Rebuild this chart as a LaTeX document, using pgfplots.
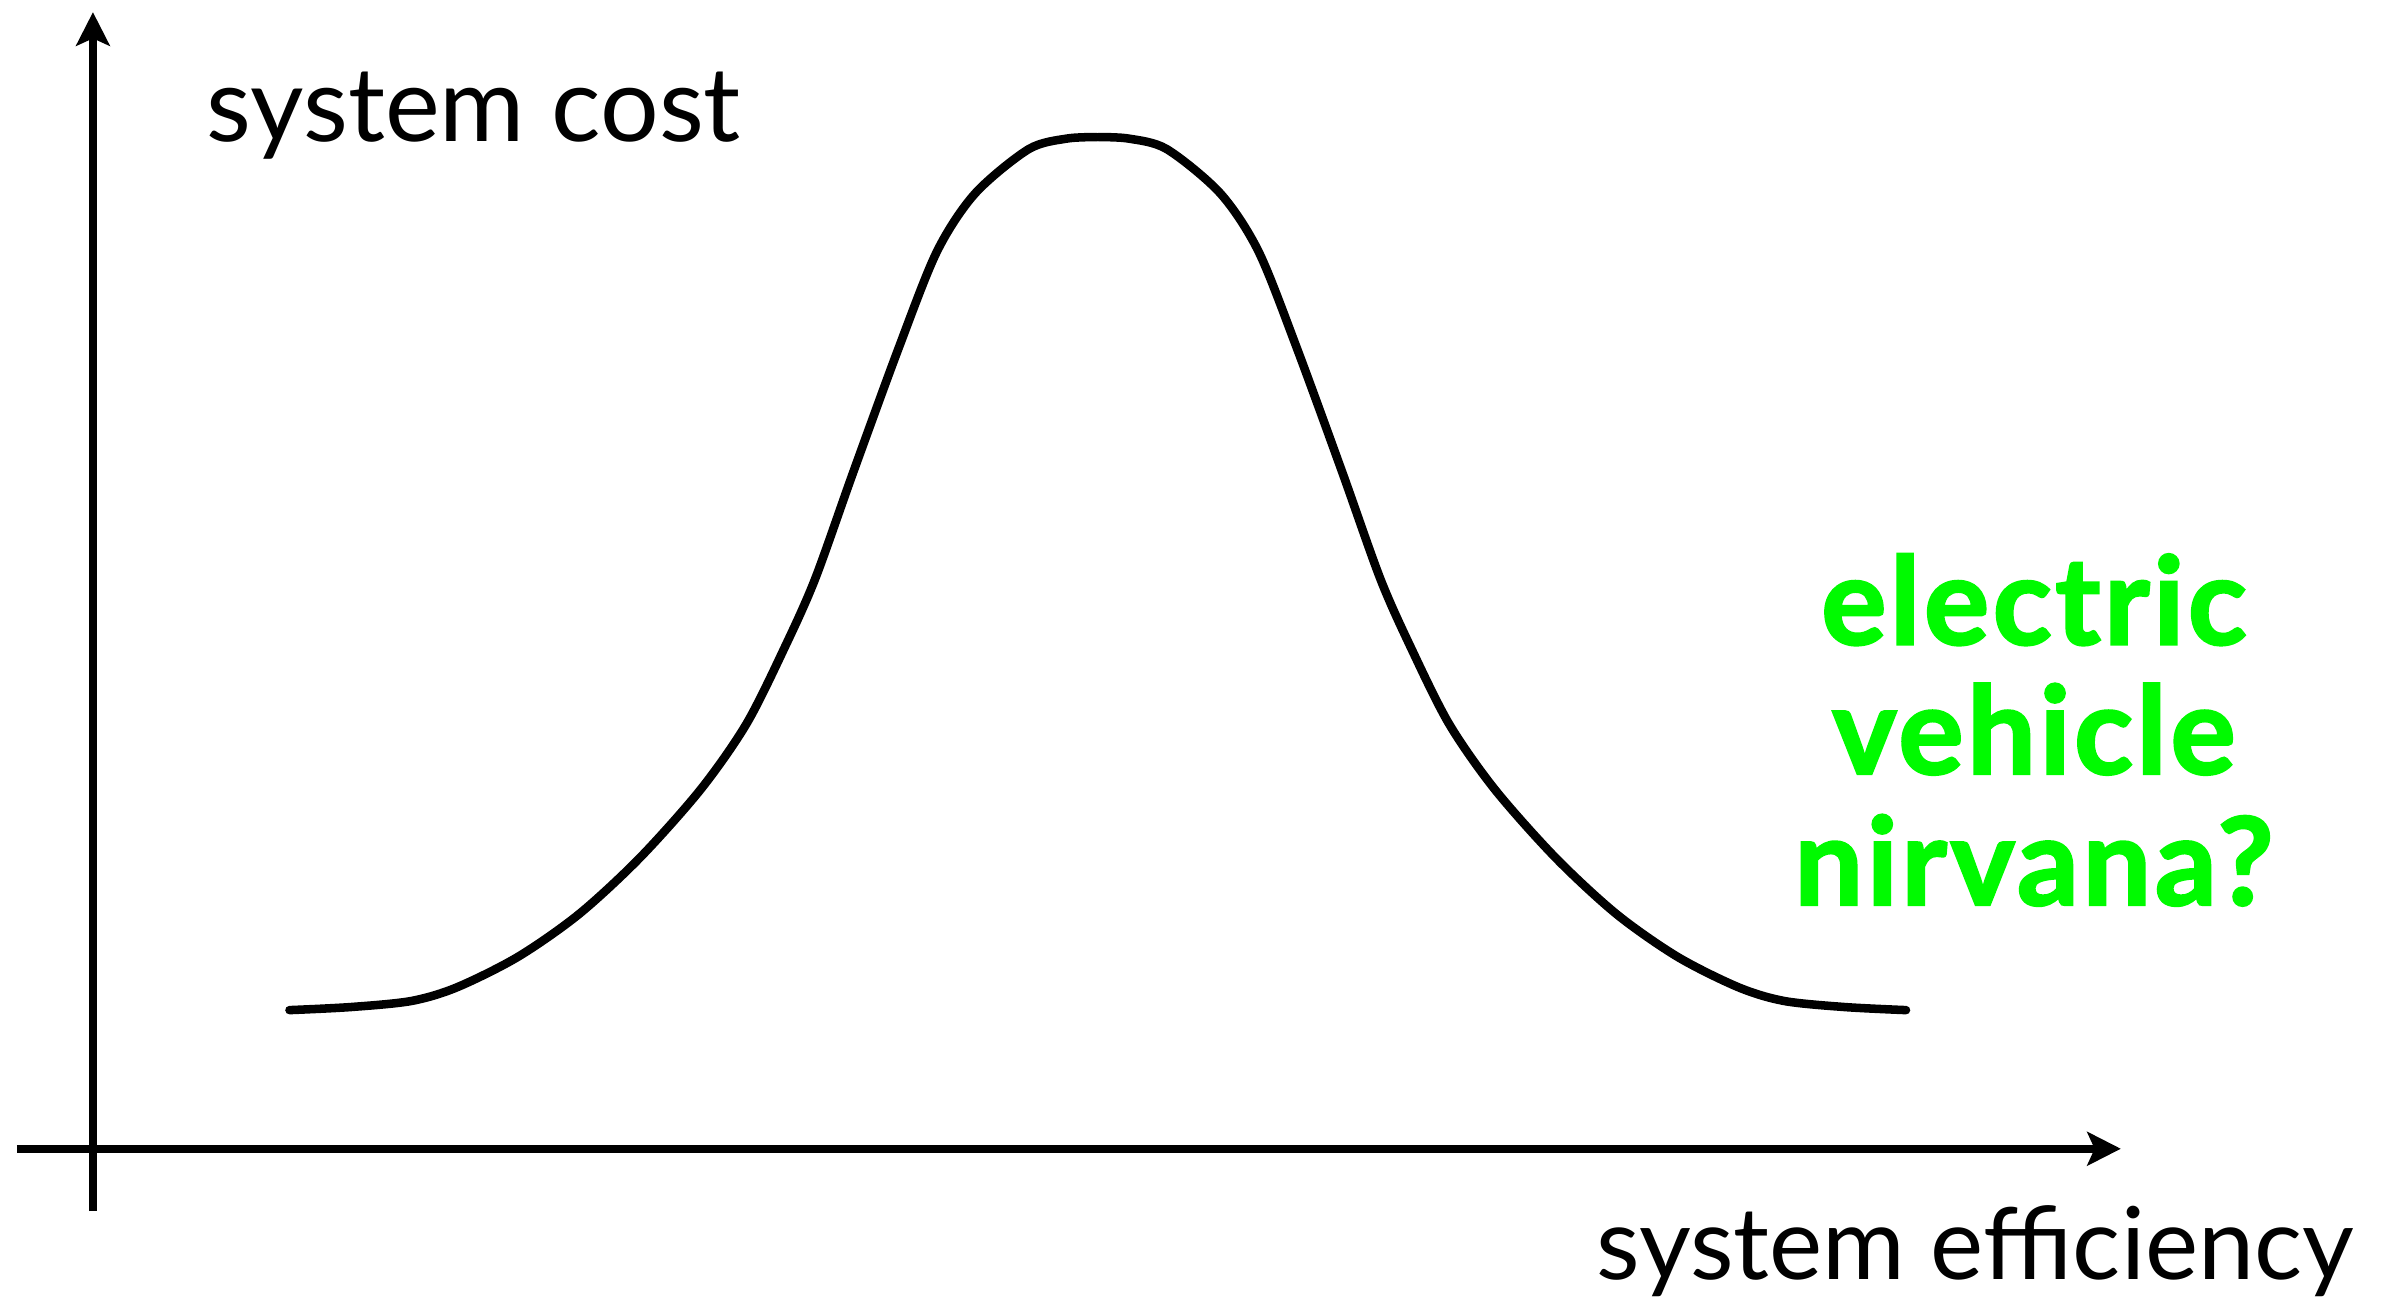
\documentclass[border=0pt]{standalone}
\usepackage{pgfplots}
\pgfplotsset{compat=1.18}
\usepackage{fontspec}
\setmainfont{Lato}
\newfontfamily\evfont{Lato}[BoldFeatures={FakeBold=2,LetterSpace=3}]
\usetikzlibrary{arrows.meta}
\definecolor{evgreen}{RGB}{0,250,0}
\begin{document}
\begin{tikzpicture}
\begin{axis}[
  scale only axis,
  width=345.25pt, height=196.75pt,
  xmin=-50, xmax=1331, ymin=-41, ymax=746,
  axis lines=middle,
  axis line style={line width=1.35pt, -{Stealth[length=5.5pt,width=5.5pt,inset=1.2pt]}},
  xtick=\empty, ytick=\empty,
  clip=false,
]
\addplot[black, line width=1.4pt, line cap=round, smooth] coordinates {
(129,91) (169,93) (209,97) (239,106) (279,126) (319,154) (359,191) (399,236)
(429,279) (454,329) (474,374) (499,444) (529,526) (554,589) (579,627) (614,656)
(639,663) (659,664)};
\addplot[black, line width=1.4pt, line cap=round, smooth] coordinates {
(660,664) (680,663) (705,656) (740,627) (765,589) (790,526) (820,444) (845,374)
(865,329) (890,279) (920,236) (960,191) (1000,154) (1040,126) (1080,106) (1110,97)
(1150,93) (1190,91)};
\node[anchor=base west, inner sep=0pt, font=\fontsize{17}{21}\selectfont] at (axis cs:74,661) {system cost};
\node[anchor=base west, inner sep=0pt, font=\fontsize{16.5}{20}\selectfont] at (axis cs:986,-86) {system efficiency};
\node[anchor=base, inner sep=0pt, text=evgreen, font=\fontsize{20}{24}\evfont\bfseries] at (axis cs:1274,331) {electric};
\node[anchor=base, inner sep=0pt, text=evgreen, font=\fontsize{20}{24}\evfont\bfseries] at (axis cs:1274,246) {vehicle};
\node[anchor=base, inner sep=0pt, text=evgreen, font=\fontsize{20}{24}\evfont\bfseries] at (axis cs:1274,160) {nirvana?};
\coordinate (bbll) at (axis cs:-61,-101);
\coordinate (bbur) at (axis cs:1507,754);
\end{axis}
\pgfresetboundingbox
\useasboundingbox (bbll) rectangle (bbur);
\end{tikzpicture}
\end{document}
